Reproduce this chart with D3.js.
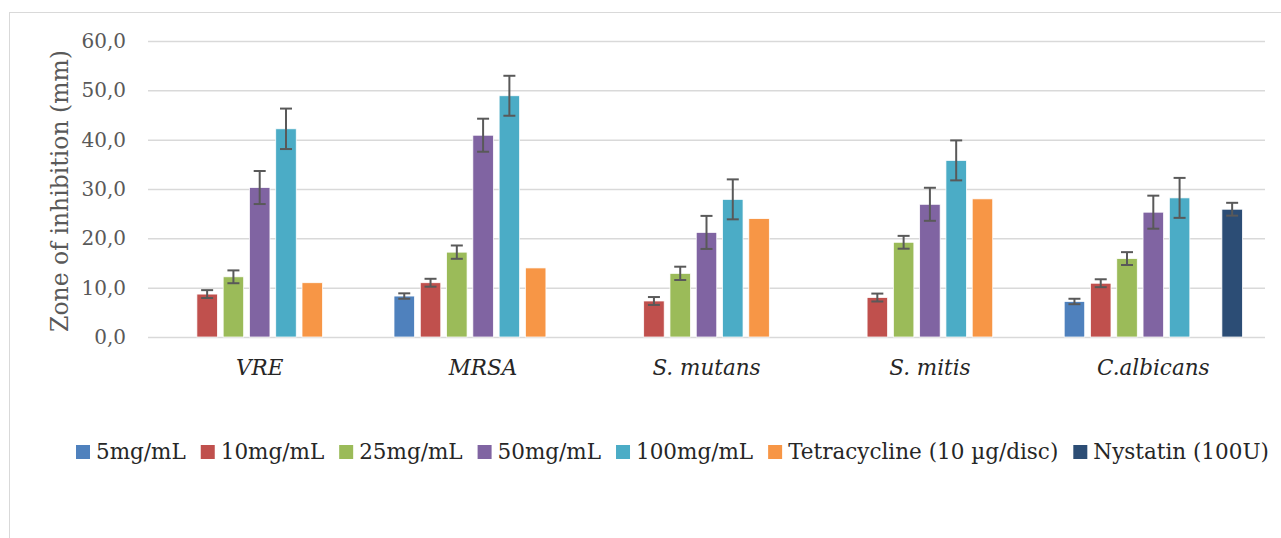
<!DOCTYPE html>
<html>
<head>
<meta charset="utf-8">
<script src="https://cdn.jsdelivr.net/npm/d3@7"></script>
<style>
  body { margin: 0; background: #fff; }
  svg { display: block; }
</style>
</head>
<body>
<svg width="1281" height="538"></svg>
<script>
// Data
var categories = ["VRE", "MRSA", "S. mutans", "S. mitis", "C.albicans"];
var seriesNames = ["5mg/mL", "10mg/mL", "25mg/mL", "50mg/mL", "100mg/mL", "Tetracycline (10 \u00b5g/disc)", "Nystatin (100U)"];
var seriesColors = ["#4f81bd", "#c0504d", "#9bbb59", "#8064a2", "#4bacc6", "#f79646", "#2c4d75"];

// values per series, one per category (null = no bar)
var v5   = [null, 8.3, null, null, 7.2];
var v10  = [8.7, 11.0, 7.3, 8.0, 10.9];
var v25  = [12.2, 17.2, 12.9, 19.2, 15.9];
var v50  = [30.3, 40.9, 21.2, 26.9, 25.3];
var v100 = [42.2, 48.9, 27.9, 35.8, 28.2];
var vTet = [11.0, 14.0, 24.0, 28.0, null];
var vNys = [null, null, null, null, 25.9];

// error bar half-widths (null = no error bar)
var e5   = [null, 0.55, null, null, 0.55];
var e10  = [0.8, 0.8, 0.8, 0.8, 0.8];
var e25  = [1.3, 1.35, 1.35, 1.3, 1.3];
var e50  = [3.35, 3.35, 3.35, 3.35, 3.35];
var e100 = [4.1, 4.05, 4.05, 4.05, 4.05];
var eTet = [null, null, null, null, null];
var eNys = [null, null, null, null, 1.3];

var yTicks = [0, 10, 20, 30, 40, 50, 60];

var values = [v5, v10, v25, v50, v100, vTet, vNys];
var errors = [e5, e10, e25, e50, e100, eTet, eNys];

var svg = d3.select("svg");
var font = "DejaVu Serif";

// outer chart border
svg.append("rect")
    .attr("x", 9.5).attr("y", 12.5)
    .attr("width", 1400).attr("height", 700)
    .attr("fill", "none")
    .attr("stroke", "#d9d9d9")
    .attr("stroke-width", 1);

var plot = { left: 148, right: 1265, top: 41, bottom: 337 };

var x0 = d3.scaleBand()
    .domain(categories)
    .range([plot.left, plot.right]);

var x1 = d3.scaleBand()
    .domain(d3.range(seriesNames.length))
    .range([0, x0.bandwidth()])
    .paddingInner(0.22)
    .paddingOuter(0.86);

var y = d3.scaleLinear()
    .domain([0, 60])
    .range([plot.bottom, plot.top]);

// gridlines
svg.append("g")
    .attr("transform", "translate(" + plot.left + ",0)")
    .call(d3.axisLeft(y).tickValues(yTicks).tickSize(-(plot.right - plot.left)).tickFormat(""))
    .call(function(g) { g.select(".domain").remove(); })
    .selectAll("line")
    .attr("stroke", "#d9d9d9")
    .attr("stroke-width", 1.5);

// y tick labels
svg.append("g")
    .attr("transform", "translate(129,0)")
    .call(d3.axisLeft(y).tickValues(yTicks).tickSize(0)
        .tickFormat(function(d) { return d3.format(".1f")(d).replace(".", ","); }))
    .call(function(g) { g.select(".domain").remove(); })
    .selectAll("text")
    .attr("font-family", font)
    .attr("font-size", "20px")
    .attr("fill", "#595959");

// y axis title
svg.append("text")
    .attr("transform", "translate(68,191) rotate(-90)")
    .attr("text-anchor", "middle")
    .attr("font-family", font)
    .attr("font-size", "23.5px")
    .attr("fill", "#595959")
    .text("Zone of inhibition (mm)");

// bars
var bars = [];
values.forEach(function(arr, s) {
    arr.forEach(function(v, c) {
        if (v != null) bars.push({ s: s, c: c, v: v, e: errors[s][c] });
    });
});

svg.append("g").selectAll("rect")
    .data(bars)
    .join("rect")
    .attr("x", function(d) { return x0(categories[d.c]) + x1(d.s); })
    .attr("y", function(d) { return y(d.v); })
    .attr("width", x1.bandwidth())
    .attr("height", function(d) { return y(0) - y(d.v); })
    .attr("fill", function(d) { return seriesColors[d.s]; })
    .attr("stroke", "#fff")
    .attr("stroke-width", 0.75);

// error bars
var eb = svg.append("g")
    .attr("stroke", "#595959")
    .attr("stroke-width", 2)
    .selectAll("g")
    .data(bars.filter(function(d) { return d.e != null; }))
    .join("g");

function cx(d) { return x0(categories[d.c]) + x1(d.s) + x1.bandwidth() / 2; }

eb.append("line")
    .attr("x1", cx)
    .attr("x2", cx)
    .attr("y1", function(d) { return y(d.v + d.e); })
    .attr("y2", function(d) { return y(d.v - d.e); });

[1, -1].forEach(function(sign) {
    eb.append("line")
        .attr("x1", function(d) { return cx(d) - 6; })
        .attr("x2", function(d) { return cx(d) + 6; })
        .attr("y1", function(d) { return y(d.v + sign * d.e); })
        .attr("y2", function(d) { return y(d.v + sign * d.e); });
});

// category labels
svg.append("g").selectAll("text")
    .data(categories)
    .join("text")
    .attr("x", function(d) { return x0(d) + x0.bandwidth() / 2; })
    .attr("y", 375)
    .attr("text-anchor", "middle")
    .attr("font-family", font)
    .attr("font-style", "italic")
    .attr("font-size", "21.5px")
    .attr("fill", "#262626")
    .text(function(d) { return d; });

// legend
var legend = svg.append("g");
var lx = 76;
seriesNames.forEach(function(name, i) {
    legend.append("rect")
        .attr("x", lx).attr("y", 445)
        .attr("width", 14).attr("height", 14)
        .attr("fill", seriesColors[i]);
    var t = legend.append("text")
        .attr("x", lx + 20).attr("y", 459)
        .attr("font-family", font)
        .attr("font-size", "21.5px")
        .attr("fill", "#262626")
        .text(name);
    lx += 20 + t.node().getComputedTextLength() + 15;
});
</script>
</body>
</html>
